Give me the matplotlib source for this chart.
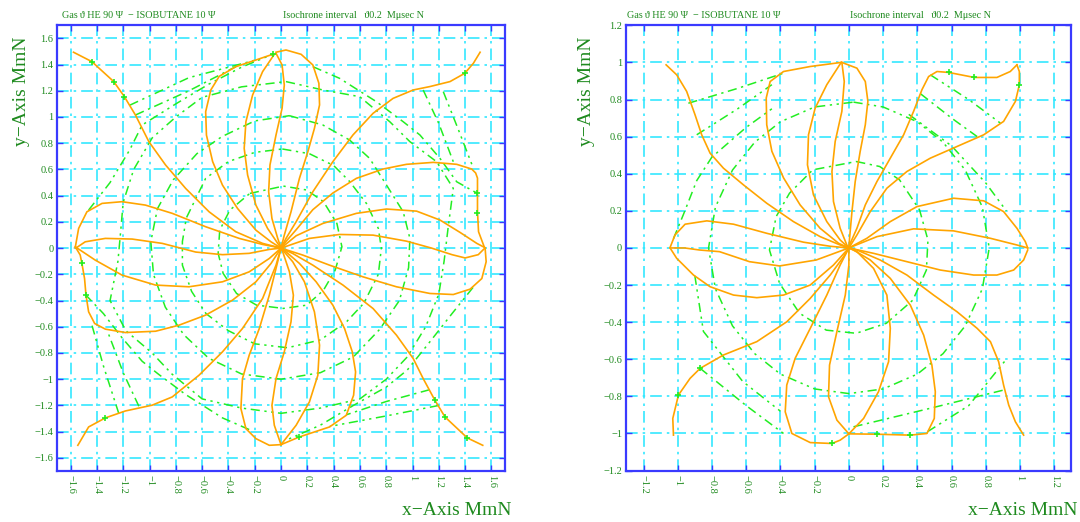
import matplotlib
matplotlib.use("Agg")
import matplotlib.pyplot as plt
import numpy as np

plt.rcParams['font.family'] = ['Liberation Serif', 'DejaVu Serif']

ORANGE = '#ffa500'
GREEN = '#22ee22'
CYAN = '#33e8ff'
BLUE = '#3a3aff'
TXT = '#1e8a1e'

# ---------------- left panel drift lines (cm) ----------------
left_corner_tl = [(-1.578,1.494),(-1.438,1.422),(-1.272,1.27),(-1.191,1.155),(-1.107,1.015),(-1.005,0.812),(-0.878,0.634),(-0.725,0.455),(-0.547,0.277),(-0.344,0.125),(-0.14,0.036),(0,0)]
left_top_1 = [(-0.064,1.478),(-0.19,1.435),(-0.343,1.384),(-0.47,1.31),(-0.534,1.206),(-0.573,1.04),(-0.567,0.862),(-0.52,0.66),(-0.445,0.48),(-0.331,0.303),(-0.191,0.137),(-0.076,0.048),(0,0)]
left_top_2 = [(-0.051,1.478),(-0.14,1.346),(-0.216,1.168),(-0.267,0.964),(-0.28,0.761),(-0.254,0.557),(-0.191,0.328),(-0.102,0.15),(-0.025,0.036),(0,0)]
left_top_3 = [(-0.038,1.486),(0.008,1.397),(0.025,1.244),(0.008,1.066),(-0.038,0.863),(-0.084,0.634),(-0.094,0.43),(-0.069,0.226),(-0.025,0.074),(0,0)]
left_top_4 = [(-0.038,1.494),(0.038,1.511),(0.153,1.478),(0.242,1.397),(0.288,1.257),(0.293,1.092),(0.254,0.913),(0.204,0.735),(0.14,0.532),(0.076,0.277),(0.025,0.099),(0,0)]
left_corner_tr = [(1.514,1.494),(1.463,1.41),(1.397,1.333),(1.285,1.27),(1.132,1.232),(1.005,1.206),(0.852,1.142),(0.7,1.028),(0.547,0.863),(0.394,0.659),(0.242,0.43),(0.115,0.201),(0.038,0.074),(0,0)]
left_right_1 = [(1.545,0.01),(1.502,0.125),(1.494,0.279),(1.494,0.417),(1.494,0.534),(1.48,0.573),(1.45,0.603),(1.336,0.639),(1.158,0.654),(0.954,0.639),(0.776,0.603),(0.573,0.532),(0.394,0.42),(0.242,0.293),(0.115,0.14),(0.038,0.051),(0,0)]
left_right_2 = [(1.552,0.003),(1.489,0.036),(1.361,0.12),(1.209,0.214),(1.031,0.282),(0.802,0.298),(0.573,0.265),(0.318,0.188),(0.115,0.094),(0,0)]
left_right_3 = [(1.55,0.0),(1.5,-0.05),(1.4,-0.075),(1.3,-0.05),(1.145,0.0),(0.954,0.053),(0.7,0.099),(0.445,0.104),(0.216,0.074),(0,0)]
left_right_4 = [(1.552,0.0),(1.56,-0.104),(1.527,-0.232),(1.438,-0.313),(1.31,-0.354),(1.132,-0.346),(0.878,-0.295),(0.623,-0.219),(0.369,-0.13),(0.165,-0.053),(0,0)]
left_corner_br = [(1.534,-1.504),(1.417,-1.448),(1.247,-1.288),(1.17,-1.16),(1.081,-0.995),(1.005,-0.842),(0.878,-0.664),(0.7,-0.461),(0.471,-0.282),(0.242,-0.13),(0.089,-0.041),(0,0)]
left_bottom_1 = [(0,-1.499),(0.14,-1.44),(0.369,-1.364),(0.496,-1.275),(0.552,-1.122),(0.567,-0.944),(0.542,-0.791),(0.483,-0.613),(0.394,-0.435),(0.267,-0.257),(0.14,-0.117),(0.038,-0.028),(0,0)]
left_bottom_2 = [(0,-1.499),(0.115,-1.351),(0.216,-1.173),(0.28,-0.97),(0.293,-0.74),(0.254,-0.486),(0.178,-0.257),(0.089,-0.104),(0,0)]
left_bottom_3 = [(0,-1.499),(-0.051,-1.351),(-0.069,-1.199),(-0.038,-0.995),(0.025,-0.791),(0.076,-0.562),(0.094,-0.359),(0.064,-0.181),(0.013,-0.028),(0,0)]
left_bottom_4 = [(0,-1.499),(-0.089,-1.504),(-0.191,-1.453),(-0.267,-1.377),(-0.305,-1.224),(-0.293,-0.995),(-0.242,-0.817),(-0.165,-0.613),(-0.089,-0.359),(-0.038,-0.155),(0,0)]
left_corner_bl = [(-1.545,-1.504),(-1.463,-1.364),(-1.336,-1.295),(-1.183,-1.242),(-0.98,-1.198),(-0.827,-1.135),(-0.623,-0.969),(-0.445,-0.791),(-0.293,-0.613),(-0.14,-0.384),(-0.038,-0.13),(0,0)]
left_left_1 = [(-1.565,0.003),(-1.539,0.15),(-1.476,0.277),(-1.361,0.341),(-1.209,0.354),(-1.031,0.328),(-0.827,0.265),(-0.573,0.163),(-0.318,0.074),(-0.14,0.028),(0,0)]
left_left_2 = [(-1.56,0.0),(-1.489,0.048),(-1.336,0.074),(-1.132,0.069),(-0.903,0.036),(-0.649,-0.03),(-0.445,-0.05),(-0.242,-0.04),(-0.089,-0.01),(0,0)]
left_left_3 = [(-1.565,0.01),(-1.412,-0.092),(-1.209,-0.206),(-0.954,-0.282),(-0.7,-0.295),(-0.445,-0.257),(-0.242,-0.181),(-0.089,-0.079),(0,0)]
left_left_4 = [(-1.56,0.003),(-1.527,-0.053),(-1.514,-0.117),(-1.494,-0.232),(-1.483,-0.359),(-1.463,-0.486),(-1.417,-0.575),(-1.336,-0.618),(-1.183,-0.644),(-0.954,-0.634),(-0.776,-0.588),(-0.573,-0.511),(-0.369,-0.397),(-0.191,-0.257),(-0.076,-0.117),(0,0)]

left_lines = [left_corner_tl, left_top_1, left_top_2, left_top_3, left_top_4, left_corner_tr,
              left_right_1, left_right_2, left_right_3, left_right_4, left_corner_br,
              left_bottom_1, left_bottom_2, left_bottom_3, left_bottom_4, left_corner_bl,
              left_left_1, left_left_2, left_left_3, left_left_4]

# isochrones, left panel (estimated)
left_iso_1 = [(-0.237,0.417),(0.018,0.473),(0.196,0.443),(0.323,0.354),(0.425,0.188),(0.463,0.01),(0.412,-0.168),(0.323,-0.321),(0.196,-0.435),(0.018,-0.46),(-0.186,-0.435),(-0.338,-0.346),(-0.44,-0.193),(-0.478,-0.04),(-0.466,0.137),(-0.389,0.29),(-0.237,0.417)]
left_iso_2 = [(0.01,0.756),(0.216,0.72),(0.4,0.63),(0.52,0.51),(0.65,0.34),(0.74,0.15),(0.763,0.0),(0.74,-0.2),(0.63,-0.42),(0.5,-0.56),(0.3,-0.7),(0.05,-0.76),(-0.2,-0.73),(-0.4,-0.63),(-0.57,-0.5),(-0.68,-0.33),(-0.75,-0.13),(-0.75,0.05),(-0.72,0.23),(-0.573,0.532),(-0.4,0.66),(-0.2,0.73),(0.01,0.756)]
left_iso_3 = [(0.064,1.01),(0.318,0.939),(0.522,0.824),(0.674,0.684),(0.802,0.481),(0.929,0.277),(0.98,0.074),(0.97,-0.15),(0.9,-0.4),(0.75,-0.62),(0.55,-0.83),(0.3,-0.95),(0.0,-1.0),(-0.3,-0.96),(-0.55,-0.84),(-0.74,-0.66),(-0.88,-0.45),(-0.97,-0.2),(-0.99,0.05),(-0.94,0.3),(-0.82,0.52),(-0.64,0.72),(-0.45,0.85),(-0.2,0.97),(0.064,1.01)]
left_iso_4 = [(0.038,1.27),(0.318,1.206),(0.598,1.155),(0.827,0.964),(0.98,0.812),(1.183,0.659),(1.31,0.455),(1.27,0.15),(1.24,-0.1),(1.2,-0.35),(1.1,-0.6),(0.96,-0.83),(0.8,-1.0),(0.6,-1.15),(0.3,-1.22),(0.0,-1.26),(-0.3,-1.22),(-0.6,-1.15),(-0.83,-0.96),(-0.98,-0.8),(-1.18,-0.63),(-1.3,-0.4),(-1.24,-0.1),(-1.22,0.12),(-1.2,0.35),(-1.12,0.6),(-0.98,0.84),(-0.8,1.0),(-0.6,1.15),(-0.3,1.23),(0.038,1.27)]
left_iso_5a = [(0.242,1.384),(0.445,1.295),(0.725,1.117),(0.929,0.964),(1.056,0.863),(1.209,0.684),(1.336,0.506),(1.494,0.417)]
left_iso_5b = [(1.46,-0.3),(1.3,-0.5),(1.12,-0.73),(0.96,-0.93),(0.8,-1.06),(0.55,-1.2),(0.3,-1.35),(0.05,-1.46)]
left_iso_5c = [(-0.242,-1.384),(-0.445,-1.295),(-0.725,-1.117),(-0.929,-0.964),(-1.056,-0.863),(-1.209,-0.684),(-1.35,-0.5),(-1.483,-0.359)]
left_iso_5d = [(-1.463,0.29),(-1.3,0.5),(-1.15,0.75),(-1.056,0.939),(-0.8,1.1),(-0.55,1.25),(-0.3,1.38),(-0.064,1.478)]
left_iso_6a = [(1.081,1.206),(1.2,0.95),(1.31,0.659)]
left_iso_6b = [(1.234,1.193),(1.35,0.9),(1.463,0.608)]
left_iso_6c = [(1.13,-1.08),(0.8,-1.17),(0.5,-1.27)]
left_iso_6d = [(1.2,-1.2),(0.8,-1.28),(0.37,-1.36)]
left_iso_6e = [(-1.081,-1.206),(-1.2,-0.95),(-1.31,-0.659)]
left_iso_6f = [(-1.234,-1.26),(-1.35,-0.9),(-1.44,-0.58)]
left_iso_6g = [(-1.107,1.015),(-0.7,1.2),(-0.343,1.384)]
left_iso_6h = [(-1.15,1.09),(-0.7,1.3),(-0.19,1.435)]
left_iso = [left_iso_1, left_iso_2, left_iso_3, left_iso_4, left_iso_5a, left_iso_5b, left_iso_5c, left_iso_5d,
            left_iso_6a, left_iso_6b, left_iso_6c, left_iso_6d, left_iso_6e, left_iso_6f, left_iso_6g, left_iso_6h]

left_marks = [(-1.438,1.422),(-1.272,1.27),(-1.191,1.155),(-0.06,1.478),(1.397,1.333),(1.494,0.417),(1.494,0.267),
              (1.417,-1.448),(1.247,-1.288),(1.17,-1.16),(0.14,-1.44),(-1.336,-1.295),(-1.514,-0.117),(-1.483,-0.359)]

# ---------------- right panel drift lines (cm) ----------------
right_corner_tl = [(-1.068,0.987),(-1.006,0.933),(-0.948,0.844),(-0.899,0.718),(-0.86,0.61),(-0.811,0.511),(-0.733,0.43),(-0.616,0.34),(-0.48,0.241),(-0.324,0.142),(-0.168,0.061),(-0.051,0.016),(0,0)]
right_top_1 = [(-0.045,1.0),(-0.226,0.978),(-0.382,0.951),(-0.46,0.897),(-0.483,0.808),(-0.48,0.664),(-0.45,0.521),(-0.382,0.378),(-0.285,0.232),(-0.168,0.106),(-0.06,0.025),(0,0)]
right_top_2 = [(-0.045,1.0),(-0.129,0.88),(-0.197,0.754),(-0.236,0.61),(-0.242,0.448),(-0.207,0.286),(-0.129,0.142),(-0.051,0.043),(0,0)]
right_top_3 = [(-0.041,1.0),(-0.027,0.897),(-0.041,0.736),(-0.08,0.574),(-0.099,0.412),(-0.09,0.25),(-0.051,0.106),(-0.012,0.016),(0,0)]
right_top_4 = [(-0.041,1.0),(0.047,0.969),(0.096,0.897),(0.111,0.79),(0.096,0.664),(0.066,0.52),(0.037,0.358),(0.018,0.196),(0.004,0.052),(0,0)]
right_corner_tr_1 = [(0.982,0.987),(0.943,0.951),(0.865,0.919),(0.733,0.919),(0.583,0.946),(0.515,0.951),(0.466,0.924),(0.427,0.853),(0.378,0.736),(0.32,0.61),(0.242,0.484),(0.164,0.358),(0.096,0.232),(0.047,0.106),(0.008,0.025),(0,0)]
right_corner_tr_2 = [(0.982,0.987),(0.996,0.951),(0.996,0.879),(0.973,0.79),(0.904,0.682),(0.788,0.61),(0.632,0.547),(0.476,0.484),(0.339,0.412),(0.222,0.322),(0.125,0.196),(0.047,0.07),(0,0)]
right_right_2 = [(1.045,0),(1.031,0.034),(0.982,0.106),(0.904,0.196),(0.788,0.254),(0.612,0.268),(0.398,0.223),(0.242,0.142),(0.105,0.052),(0,0)]
right_right_3 = [(1.045,0),(0.982,0.016),(0.827,0.052),(0.612,0.092),(0.378,0.103),(0.164,0.061),(0,0)]
right_right_4 = [(1.045,-0.011),(1.021,-0.065),(0.963,-0.119),(0.865,-0.146),(0.729,-0.146),(0.534,-0.119),(0.339,-0.074),(0.144,-0.029),(0,0)]
right_corner_br = [(1.021,-1.009),(0.973,-0.937),(0.934,-0.847),(0.904,-0.739),(0.875,-0.613),(0.827,-0.505),(0.749,-0.433),(0.632,-0.344),(0.495,-0.254),(0.339,-0.146),(0.183,-0.065),(0.047,-0.011),(0,0)]
right_bottom_1 = [(0,-1.002),(0.164,-1.004),(0.359,-1.009),(0.456,-1.0),(0.499,-0.919),(0.505,-0.775),(0.485,-0.631),(0.437,-0.47),(0.359,-0.308),(0.242,-0.164),(0.125,-0.065),(0.027,-0.011),(0,0)]
right_bottom_2 = [(0,-1.002),(0.086,-0.919),(0.173,-0.775),(0.232,-0.613),(0.242,-0.433),(0.222,-0.254),(0.144,-0.11),(0.047,-0.02),(0,0)]
right_bottom_3 = [(0,-1.002),(-0.07,-0.928),(-0.119,-0.802),(-0.113,-0.631),(-0.07,-0.451),(-0.021,-0.254),(0,-0.092),(0,0)]
right_bottom_4 = [(0,-1.002),(-0.051,-1.036),(-0.099,-1.054),(-0.226,-1.049),(-0.333,-1.0),(-0.372,-0.883),(-0.363,-0.739),(-0.314,-0.595),(-0.226,-0.434),(-0.129,-0.254),(-0.051,-0.092),(0,0)]
right_corner_bl = [(-1.025,-1.009),(-1.029,-0.919),(-0.996,-0.793),(-0.928,-0.703),(-0.869,-0.649),(-0.733,-0.577),(-0.538,-0.505),(-0.363,-0.398),(-0.226,-0.272),(-0.109,-0.146),(-0.031,-0.047),(0,0)]
right_left_1 = [(-1.045,0.002),(-1.016,0.07),(-0.957,0.128),(-0.83,0.146),(-0.674,0.128),(-0.48,0.079),(-0.265,0.031),(-0.109,0.009),(0,0)]
right_left_2 = [(-1.045,0.0),(-0.96,0.0),(-0.873,-0.011),(-0.756,-0.02),(-0.581,-0.074),(-0.405,-0.097),(-0.191,-0.065),(0,0)]
right_left_3 = [(-1.045,0.0),(-1.006,-0.056),(-0.908,-0.146),(-0.811,-0.209),(-0.674,-0.254),(-0.538,-0.268),(-0.382,-0.254),(-0.226,-0.2),(-0.09,-0.092),(0,0)]

right_lines = [right_corner_tl, right_top_1, right_top_2, right_top_3, right_top_4,
               right_corner_tr_1, right_corner_tr_2, right_right_2, right_right_3, right_right_4,
               right_corner_br, right_bottom_1, right_bottom_2, right_bottom_3, right_bottom_4,
               right_corner_bl, right_left_1, right_left_2, right_left_3]

# isochrones, right panel (estimated)
right_iso_1 = [(0.043,0.466),(0.18,0.439),(0.296,0.367),(0.413,0.205),(0.462,0.043),(0.453,-0.119),(0.374,-0.281),(0.219,-0.406),(0.043,-0.46),(-0.132,-0.443),(-0.288,-0.352),(-0.405,-0.191),(-0.464,-0.011),(-0.425,0.169),(-0.347,0.295),(-0.211,0.421),(0.043,0.466)]
right_iso_2 = [(0.027,0.786),(0.2,0.76),(0.4,0.68),(0.55,0.57),(0.68,0.42),(0.78,0.22),(0.82,0.0),(0.78,-0.22),(0.68,-0.42),(0.55,-0.57),(0.4,-0.68),(0.2,-0.76),(0.0,-0.785),(-0.2,-0.76),(-0.4,-0.68),(-0.55,-0.57),(-0.68,-0.42),(-0.78,-0.22),(-0.82,0.0),(-0.78,0.22),(-0.68,0.42),(-0.55,0.57),(-0.4,0.68),(-0.2,0.76),(0.027,0.786)]
right_iso_3a = [(-0.938,0.78),(-0.65,0.86),(-0.382,0.942)]
right_iso_3b = [(-0.889,0.61),(-0.65,0.75),(-0.45,0.88)]
right_iso_3c = [(-1.025,0.05),(-0.967,0.18),(-0.889,0.363),(-0.801,0.489),(-0.6,0.65),(-0.45,0.75)]
right_iso_3d = [(0.476,0.933),(0.7,0.8),(0.885,0.673)]
right_iso_3e = [(0.42,0.83),(0.6,0.7),(0.75,0.6)]
right_iso_3f = [(0.35,0.72),(0.6,0.55),(0.8,0.35),(0.92,0.2)]
right_iso_3g = [(-0.869,-0.649),(-0.6,-0.85),(-0.382,-1.0)]
right_iso_3h = [(-0.9,-0.15),(-0.85,-0.45),(-0.62,-0.72),(-0.4,-0.88)]
right_iso_3i = [(0.027,-0.964),(0.45,-0.87),(0.904,-0.766)]
right_iso_3j = [(0.46,-0.99),(0.7,-0.85),(0.92,-0.6)]
right_iso = [right_iso_1, right_iso_2, right_iso_3a, right_iso_3b, right_iso_3c, right_iso_3d, right_iso_3e,
             right_iso_3f, right_iso_3g, right_iso_3h, right_iso_3i, right_iso_3j]

right_marks = [(0.583,0.946),(0.733,0.919),(0.996,0.879),(-0.996,-0.793),(-0.869,-0.649),(-0.099,-1.054),(0.164,-1.004),(0.359,-1.009)]

left_ticks = [round(v, 1) for v in np.arange(-1.6, 1.61, 0.2)]
right_ticks = [round(v, 1) for v in np.arange(-1.2, 1.21, 0.2)]

fig = plt.figure(figsize=(10.8, 5.22), dpi=100)

def tick_text(v):
    s = ('%.1f' % v).rstrip('0').rstrip('.')
    if s in ('-0', ''):
        s = '0'
    return s.replace('-', '\u2212')

def panel(rect, lim_x, lim_y, ticks, lines, isos, marks):
    ax = fig.add_axes(rect)
    ax.set_xlim(-lim_x, lim_x)
    ax.set_ylim(-lim_y, lim_y)
    ax.set_xticks(ticks)
    ax.set_yticks(ticks)
    ax.set_xticklabels([tick_text(t) for t in ticks], rotation=-90, fontsize=7.5, color=TXT)
    ax.set_yticklabels([tick_text(t) for t in ticks], fontsize=7.5, color=TXT)
    ax.tick_params(direction='in', length=4, width=1, color=BLUE, top=True, right=True, pad=3)
    ax.grid(True, color=CYAN, lw=1.2, linestyle=(0, (7, 3, 1.5, 3)))
    ax.set_axisbelow(True)
    for sp in ax.spines.values():
        sp.set_color(BLUE)
        sp.set_linewidth(1.6)
    for k, iso in enumerate(isos):
        xs, ys = zip(*iso)
        ls = (0, (6, 3, 1.5, 3)) if k % 2 == 0 else (0, (6, 3, 1.5, 3, 1.5, 3))
        ax.plot(xs, ys, color=GREEN, lw=1.1, linestyle=ls, zorder=2)
    for ln in lines:
        xs, ys = zip(*ln)
        ax.plot(xs, ys, color=ORANGE, lw=1.2, zorder=3)
    mx, my = zip(*marks)
    ax.plot(mx, my, '+', color=GREEN, ms=5, mew=1.2, zorder=4)
    return ax

ax1 = panel([0.0532, 0.0977, 0.414, 0.854], 1.7, 1.7, left_ticks, left_lines, left_iso, left_marks)
ax2 = panel([0.580, 0.0985, 0.412, 0.853], 1.3, 1.2, right_ticks, right_lines, right_iso, right_marks)

for x0, x1 in [(0.057, 0.262), (0.581, 0.787)]:
    fig.text(x0, 0.962, 'Gas\u2009\u03d1 HE 90 \u03a8  \u2212 ISOBUTANE 10 \u03a8', fontsize=7.3, color=TXT, ha='left', va='bottom')
    fig.text(x1, 0.962, 'Isochrone interval   \u03d10.2  M\u03bcsec N', fontsize=7.3, color=TXT, ha='left', va='bottom')

fig.text(0.474, 0.005, 'x\u2212Axis MmN', fontsize=14, color=TXT, ha='right', va='bottom')
fig.text(0.998, 0.005, 'x\u2212Axis MmN', fontsize=14, color=TXT, ha='right', va='bottom')
fig.text(0.012, 0.93, 'y\u2212Axis MmN', fontsize=14, color=TXT, ha='left', va='top', rotation=90)
fig.text(0.535, 0.93, 'y\u2212Axis MmN', fontsize=14, color=TXT, ha='left', va='top', rotation=90)

fig.savefig('out.png', dpi=100)
